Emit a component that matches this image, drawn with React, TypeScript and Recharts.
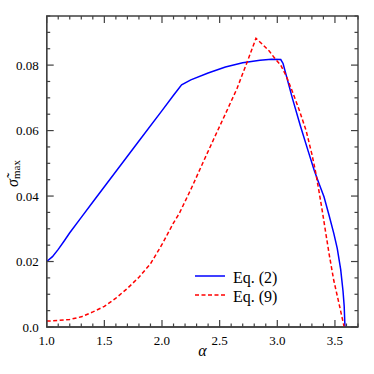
import React from 'react';
import { LineChart, Line, XAxis, YAxis, Legend, ReferenceArea } from 'recharts';

// ---- data ----
const eq2Alpha = [1.0, 1.05, 1.1, 1.15, 1.2, 1.3, 1.4, 1.6, 1.8, 2.0, 2.1, 2.17, 2.25, 2.4, 2.55, 2.7, 2.85, 2.95, 3.03, 3.05, 3.13, 3.2, 3.27, 3.32, 3.36, 3.405, 3.45, 3.49, 3.52, 3.55, 3.57, 3.58, 3.587];
const eq2Sigma = [0.02, 0.0215, 0.0237, 0.0262, 0.0288, 0.0335, 0.0382, 0.0475, 0.0568, 0.0661, 0.0708, 0.074, 0.0755, 0.0776, 0.0794, 0.0807, 0.0815, 0.0818, 0.0817, 0.0805, 0.07, 0.0615, 0.0535, 0.0479, 0.044, 0.0398, 0.034, 0.0286, 0.024, 0.0175, 0.011, 0.0065, 0.0];

const eq9Alpha = [1.0, 1.1, 1.2, 1.3, 1.4, 1.5, 1.6, 1.7, 1.8, 1.9, 2.0, 2.05, 2.1, 2.15, 2.25, 2.35, 2.45, 2.55, 2.65, 2.75, 2.815, 2.87, 2.93, 2.98, 3.03, 3.08, 3.13, 3.19, 3.25, 3.3, 3.33, 3.36, 3.39, 3.42, 3.45, 3.49, 3.535, 3.58];
const eq9Sigma = [0.0018, 0.002, 0.0023, 0.0031, 0.0046, 0.0063, 0.0088, 0.0118, 0.0152, 0.0193, 0.0252, 0.0285, 0.0318, 0.0347, 0.042, 0.0498, 0.0575, 0.0651, 0.0728, 0.082, 0.0882, 0.0864, 0.0843, 0.082, 0.08, 0.0765, 0.072, 0.0663, 0.06, 0.0528, 0.0478, 0.0418, 0.0355, 0.0288, 0.0222, 0.0142, 0.0072, 0.0];

const xTicks = [1.0, 1.1, 1.2, 1.3, 1.4, 1.5, 1.6, 1.7, 1.8, 1.9, 2.0, 2.1, 2.2, 2.3, 2.4, 2.5, 2.6, 2.7, 2.8, 2.9, 3.0, 3.1, 3.2, 3.3, 3.4, 3.5, 3.6, 3.7];
const xMajor = [1.0, 1.5, 2.0, 2.5, 3.0, 3.5];
const xLabels = ['1.0', '1.5', '2.0', '2.5', '3.0', '3.5'];
const yTicks = [0, 0.005, 0.01, 0.015, 0.02, 0.025, 0.03, 0.035, 0.04, 0.045, 0.05, 0.055, 0.06, 0.065, 0.07, 0.075, 0.08, 0.085, 0.09, 0.095];
const yMajor = [0, 0.02, 0.04, 0.06, 0.08];
const yLabels = ['0.0', '0.02', '0.04', '0.06', '0.08'];

const seriesNames = ['Eq. (2)', 'Eq. (9)'];

const eq2Data = eq2Alpha.map((a, i) => ({ a, v: eq2Sigma[i] }));
const eq9Data = eq9Alpha.map((a, i) => ({ a, v: eq9Sigma[i] }));

const W = 374;
const H = 374;
const MARGIN = { top: 16, right: 16, bottom: 0, left: 0 };
const PLOT_TOP = MARGIN.top;
const PLOT_RIGHT = W - MARGIN.right;

const FONT = "'Liberation Serif', 'Times New Roman', serif";
const AX = '#404040';
const BLUE = '#0000ff';
const RED = '#ff0000';

const txtStyle = (size: number, italic = false): React.CSSProperties => ({
  fontFamily: FONT,
  fontSize: size,
  fontStyle: italic ? 'italic' : 'normal',
});

const XTick = (props: any) => {
  const { x, y, payload } = props;
  const idx = xMajor.findIndex((m) => Math.abs(m - payload.value) < 1e-9);
  const len = idx >= 0 ? 7 : 3.5;
  return (
    <g>
      <line x1={x} y1={y} x2={x} y2={y - len} stroke={AX} strokeWidth={1.2} />
      <line x1={x} y1={PLOT_TOP} x2={x} y2={PLOT_TOP + len} stroke={AX} strokeWidth={1.2} />
      {idx >= 0 && (
        <text x={x} y={y + 18} textAnchor="middle" style={txtStyle(13)} fill="#000">
          {xLabels[idx]}
        </text>
      )}
    </g>
  );
};

const YTick = (props: any) => {
  const { x, y, payload } = props;
  const idx = yMajor.findIndex((m) => Math.abs(m - payload.value) < 1e-9);
  const len = idx >= 0 ? 7 : 3.5;
  return (
    <g>
      <line x1={x} y1={y} x2={x + len} y2={y} stroke={AX} strokeWidth={1.2} />
      <line x1={PLOT_RIGHT} y1={y} x2={PLOT_RIGHT - len} y2={y} stroke={AX} strokeWidth={1.2} />
      {idx >= 0 && (
        <text x={x - 8} y={y + 4.5} textAnchor="end" style={txtStyle(13)} fill="#000">
          {yLabels[idx]}
        </text>
      )}
    </g>
  );
};

const XLabel = (props: any) => {
  const vb = props.viewBox || {};
  const cx = (vb.x ?? 46.7) + (vb.width ?? 311) / 2;
  return (
    <text x={cx} y={356} textAnchor="middle" style={txtStyle(16, true)} fill="#000">
      α
    </text>
  );
};

const YLabel = (props: any) => {
  const vb = props.viewBox || {};
  const cy = (vb.y ?? 16) + (vb.height ?? 311) / 2 + 2;
  const cx = 17.5;
  return (
    <text transform={`rotate(-90 ${cx} ${cy})`} x={cx} y={cy} textAnchor="middle" style={txtStyle(16)} fill="#000">
      <tspan style={txtStyle(16, true)}>{'σ\u0303'}</tspan>
      <tspan style={txtStyle(11)} dy={2}>max</tspan>
    </text>
  );
};

const LegendBox = () => (
  <svg width={115} height={42} style={{ display: 'block' }}>
    <line x1={5} y1={11} x2={35} y2={11} stroke={BLUE} strokeWidth={1.5} />
    <text x={43} y={17.5} style={txtStyle(16)} fill="#000">{seriesNames[0]}</text>
    <line x1={5} y1={30} x2={35} y2={30} stroke={RED} strokeWidth={1.5} strokeDasharray="4 2.5" />
    <text x={43} y={36.5} style={txtStyle(16)} fill="#000">{seriesNames[1]}</text>
  </svg>
);

export default function App() {
  return (
    <div style={{ position: 'absolute', left: 0, top: 0, width: W, height: H, background: '#fff' }}>
      <LineChart width={W} height={H} margin={MARGIN}>
        <XAxis
          dataKey="a"
          type="number"
          domain={[1, 3.7]}
          ticks={xTicks}
          interval={0}
          allowDataOverflow
          height={47}
          tickSize={0}
          tickMargin={0}
          tickLine={false}
          axisLine={{ stroke: AX, strokeWidth: 1.4 }}
          tick={<XTick />}
          label={<XLabel />}
        />
        <YAxis
          type="number"
          domain={[0, 0.095]}
          ticks={yTicks}
          interval={0}
          allowDataOverflow
          width={46.7}
          tickSize={0}
          tickMargin={0}
          tickLine={false}
          axisLine={{ stroke: AX, strokeWidth: 1.4 }}
          tick={<YTick />}
          label={<YLabel />}
        />
        <ReferenceArea
          x1={1}
          x2={3.7}
          y1={0}
          y2={0.095}
          fill="none"
          fillOpacity={0}
          stroke={AX}
          strokeWidth={1.4}
          ifOverflow="visible"
        />
        <Line
          data={eq2Data}
          dataKey="v"
          name={seriesNames[0]}
          type="linear"
          stroke={BLUE}
          strokeWidth={1.5}
          dot={false}
          activeDot={false}
          isAnimationActive={false}
        />
        <Line
          data={eq9Data}
          dataKey="v"
          name={seriesNames[1]}
          type="linear"
          stroke={RED}
          strokeWidth={1.5}
          strokeDasharray="4 2.5"
          dot={false}
          activeDot={false}
          isAnimationActive={false}
        />
        <Legend
          layout="horizontal"
          align="center"
          verticalAlign="middle"
          content={<LegendBox />}
          wrapperStyle={{ left: 190, top: 265, width: 115, height: 42 }}
        />
      </LineChart>
    </div>
  );
}
